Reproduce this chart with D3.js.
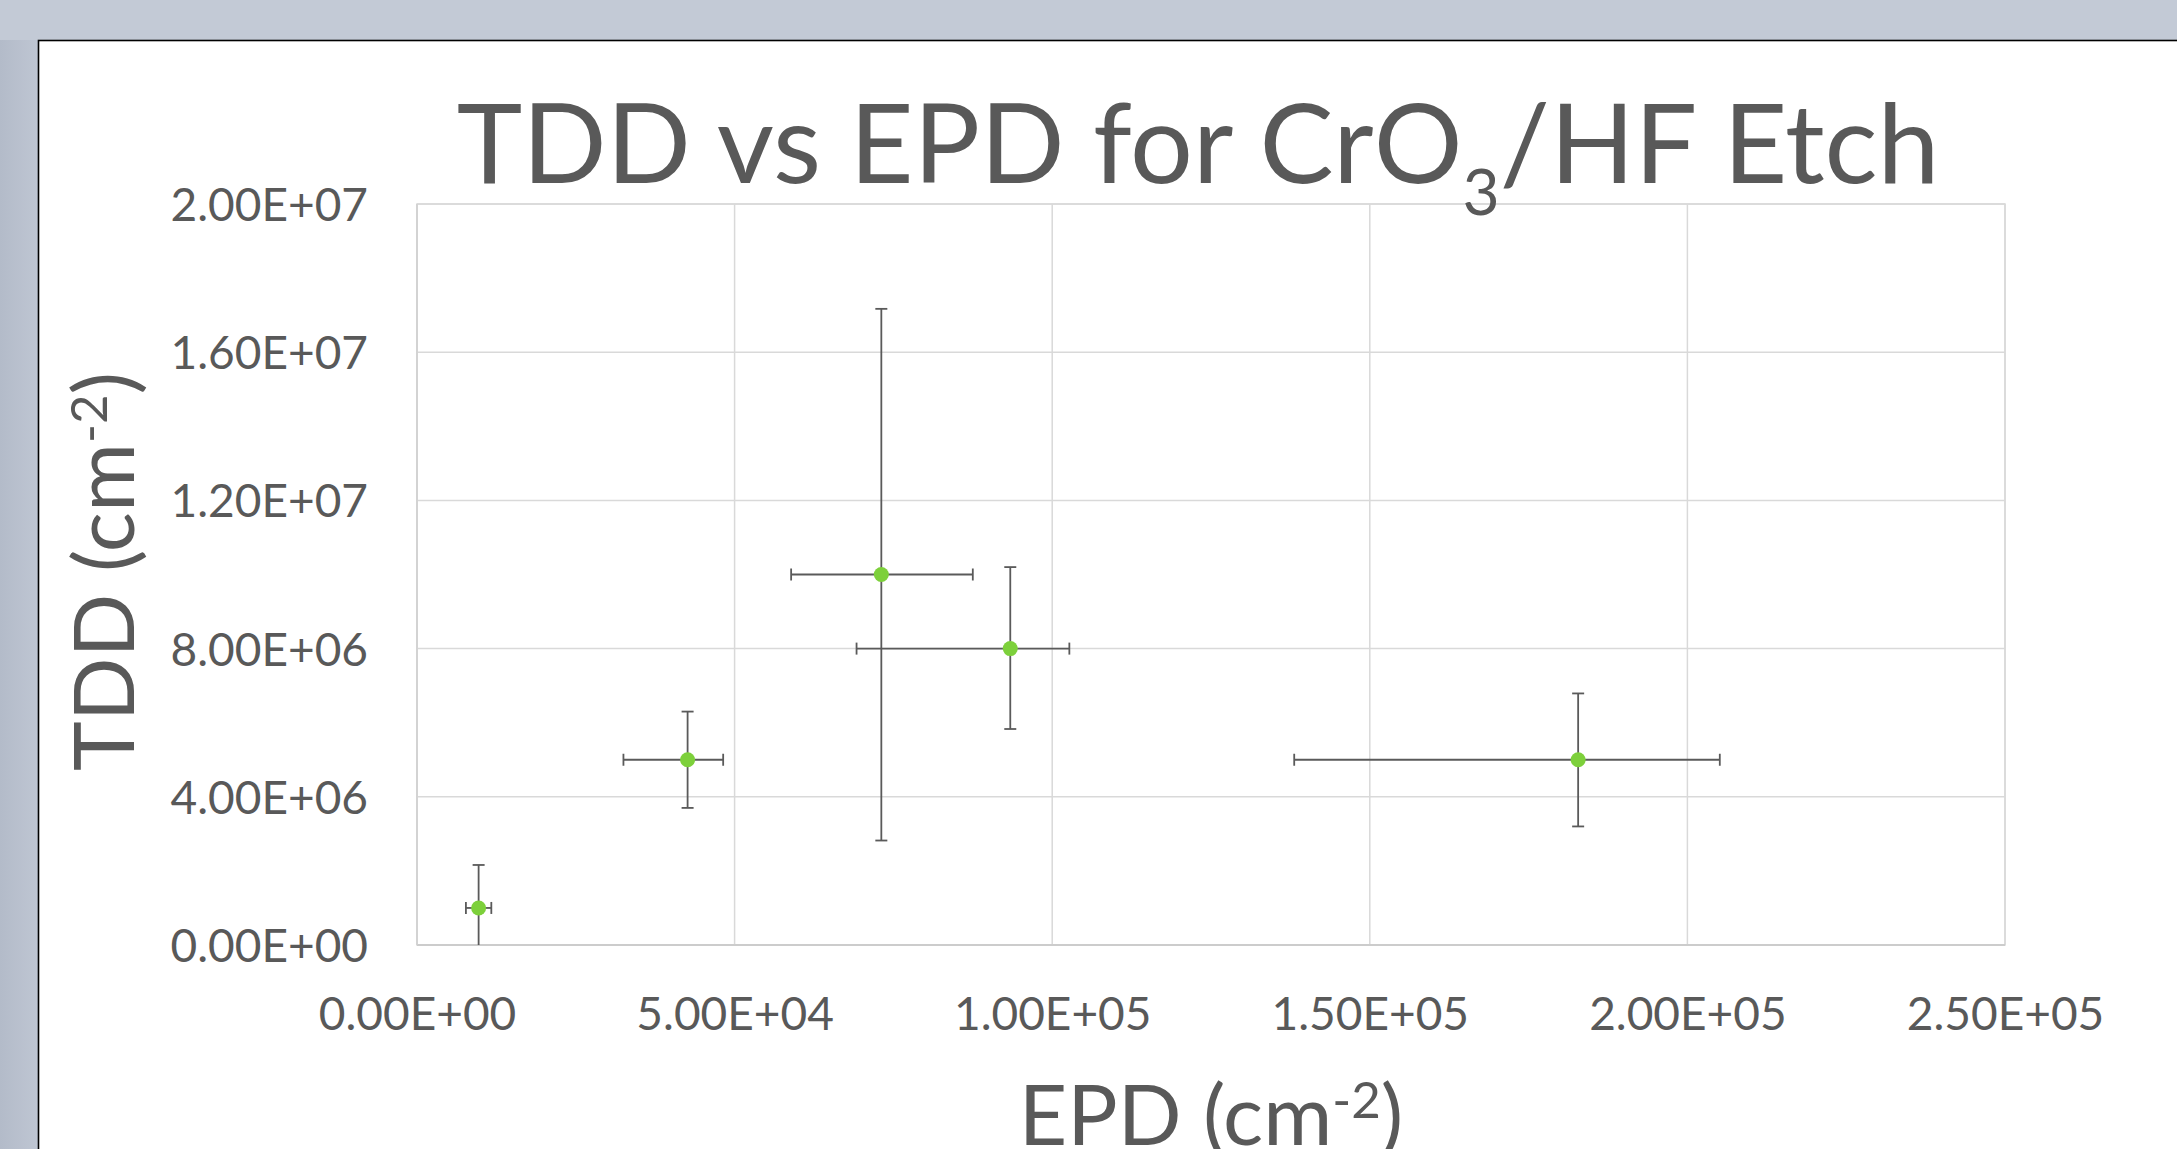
<!DOCTYPE html>
<html>
<head>
<meta charset="utf-8">
<script src="https://cdn.jsdelivr.net/npm/d3@7"></script>
<style>
  html, body { margin: 0; padding: 0; background: #c3cad6; overflow: hidden; }
  svg { display: block; }
  text { font-family: Lato, "Open Sans", sans-serif; fill: #595959; }
</style>
</head>
<body>
<svg id="chart" width="2177" height="1149"></svg>
<script>
// ---- data ----
const epd        = [9.7e3, 4.26e4, 7.31e4, 9.34e4, 1.828e5];   // x values (cm^-2)
const tdd        = [1.0e6, 5.0e6, 1.0e7, 8.0e6, 5.0e6];       // y values (cm^-2)
const epdErrMinus = [2.0e3, 1.01e4, 1.42e4, 2.42e4, 4.47e4];
const epdErrPlus  = [2.0e3, 5.6e3, 1.44e4, 9.3e3, 2.23e4];
const tddErrMinus = [1.16e6, 1.3e6, 7.18e6, 2.17e6, 1.8e6];
const tddErrPlus  = [1.16e6, 1.3e6, 7.17e6, 2.2e6, 1.79e6];

const xTickValues = [0, 5e4, 1e5, 1.5e5, 2e5, 2.5e5];
const xTickLabels = ["0.00E+00", "5.00E+04", "1.00E+05", "1.50E+05", "2.00E+05", "2.50E+05"];
const yTickValues = [0, 4e6, 8e6, 1.2e7, 1.6e7, 2e7];
const yTickLabels = ["0.00E+00", "4.00E+06", "8.00E+06", "1.20E+07", "1.60E+07", "2.00E+07"];

const titleMain = "TDD vs EPD for CrO";
const titleSub = "3";
const titleRest = "/HF Etch";
const xTitle = "EPD (cm";
const yTitle = "TDD (cm";
const unitSup = "-2";

// ---- layout ----
const svg = d3.select("#chart");
const W = 2177, H = 1149;
const plot = { left: 417, right: 2005, top: 204, bottom: 945 };

// background: left strip + white card
const defs = svg.append("defs");
const grad = defs.append("linearGradient").attr("id", "bgGrad").attr("x1", 0).attr("x2", 1).attr("y1", 0).attr("y2", 0);
grad.append("stop").attr("offset", "0%").attr("stop-color", "#b3bbc9");
grad.append("stop").attr("offset", "100%").attr("stop-color", "#bfc6d3");
svg.append("rect").attr("x", 0).attr("y", 0).attr("width", W).attr("height", H).attr("fill", "#c3cad6");
svg.append("rect").attr("x", 0).attr("y", 40).attr("width", 39).attr("height", H - 40).attr("fill", "url(#bgGrad)");
svg.append("rect").attr("x", 38.5).attr("y", 40.5).attr("width", W + 10).attr("height", H + 10)
   .attr("fill", "#ffffff").attr("stroke", "#000000").attr("stroke-width", 1.6);

const x = d3.scaleLinear().domain([0, 2.5e5]).range([plot.left, plot.right]);
const y = d3.scaleLinear().domain([0, 2e7]).range([plot.bottom, plot.top]);

const gridColor = "#d9d9d9";

// gridlines
svg.append("g").selectAll("line").data(yTickValues).join("line")
  .attr("x1", plot.left).attr("x2", plot.right)
  .attr("y1", d => y(d)).attr("y2", d => y(d))
  .attr("stroke", gridColor).attr("stroke-width", 1.5);
svg.append("g").selectAll("line").data(xTickValues).join("line")
  .attr("x1", d => x(d)).attr("x2", d => x(d))
  .attr("y1", plot.top).attr("y2", plot.bottom)
  .attr("stroke", gridColor).attr("stroke-width", 1.5);
// plot border
svg.append("rect").attr("x", plot.left).attr("y", plot.top)
  .attr("width", plot.right - plot.left).attr("height", plot.bottom - plot.top)
  .attr("fill", "none").attr("stroke", gridColor).attr("stroke-width", 1.5);
// axis lines
svg.append("line").attr("x1", plot.left).attr("x2", plot.right).attr("y1", plot.bottom).attr("y2", plot.bottom)
  .attr("stroke", "#cccccc").attr("stroke-width", 1.8);
svg.append("line").attr("x1", plot.left).attr("x2", plot.left).attr("y1", plot.top).attr("y2", plot.bottom)
  .attr("stroke", "#d0d0d0").attr("stroke-width", 1.5);

// axes (labels only)
const tickFs = 46;
const yAxis = d3.axisLeft(y).tickValues(yTickValues).tickFormat((d, i) => yTickLabels[i]).tickSize(0).tickPadding(0);
const gy = svg.append("g").attr("transform", `translate(${plot.left - 49},0)`).call(yAxis);
gy.select(".domain").remove();
gy.selectAll("text").attr("font-size", tickFs).attr("dy", (0.7165 * tickFs / 2) + "px")
  .style("font-family", "Lato").attr("fill", "#595959");

const xAxis = d3.axisBottom(x).tickValues(xTickValues).tickFormat((d, i) => xTickLabels[i]).tickSize(0).tickPadding(0);
const gx = svg.append("g").attr("transform", `translate(0,1030)`).call(xAxis);
gx.select(".domain").remove();
gx.selectAll("text").attr("font-size", tickFs).attr("dy", "0px").attr("y", 0)
  .style("font-family", "Lato").attr("fill", "#595959");

// error bars
const points = epd.map((v, i) => ({
  x: v, y: tdd[i],
  xm: epdErrMinus[i], xp: epdErrPlus[i],
  ym: tddErrMinus[i], yp: tddErrPlus[i]
}));
const eb = svg.append("g").attr("stroke", "#5a5a5a").attr("stroke-width", 1.8).attr("fill", "none");
const cap = 6;
points.forEach(p => {
  const cx = x(p.x), cy = y(p.y);
  // horizontal
  const xl = Math.max(0, p.x - p.xm), xr = Math.min(2.5e5, p.x + p.xp);
  eb.append("line").attr("x1", x(xl)).attr("x2", x(xr)).attr("y1", cy).attr("y2", cy);
  if (p.x - p.xm >= 0) eb.append("line").attr("x1", x(xl)).attr("x2", x(xl)).attr("y1", cy - cap).attr("y2", cy + cap);
  if (p.x + p.xp <= 2.5e5) eb.append("line").attr("x1", x(xr)).attr("x2", x(xr)).attr("y1", cy - cap).attr("y2", cy + cap);
  // vertical
  const yb = Math.max(0, p.y - p.ym), yt = Math.min(2e7, p.y + p.yp);
  eb.append("line").attr("x1", cx).attr("x2", cx).attr("y1", y(yb)).attr("y2", y(yt));
  if (p.y - p.ym >= 0) eb.append("line").attr("x1", cx - cap).attr("x2", cx + cap).attr("y1", y(yb)).attr("y2", y(yb));
  if (p.y + p.yp <= 2e7) eb.append("line").attr("x1", cx - cap).attr("x2", cx + cap).attr("y1", y(yt)).attr("y2", y(yt));
});

// markers
svg.append("g").selectAll("circle").data(points).join("circle")
  .attr("cx", d => x(d.x)).attr("cy", d => y(d.y)).attr("r", 7.5)
  .attr("fill", "#7dd03b");

// title
const titleFs = 111;
const t = svg.append("text").attr("x", 1198).attr("y", 183).attr("text-anchor", "middle").attr("font-size", titleFs);
t.append("tspan").text(titleMain);
t.append("tspan").text(titleSub).attr("font-size", 64).attr("dy", 32);
t.append("tspan").text(titleRest).attr("dy", -32);

// x axis title
const axFs = 84;
const xt = svg.append("text").attr("x", (plot.left + plot.right) / 2).attr("y", 1145)
  .attr("text-anchor", "middle").attr("font-size", axFs);
xt.append("tspan").text(xTitle);
xt.append("tspan").text(unitSup).attr("font-size", 51).attr("dy", -27);
xt.append("tspan").text(")").attr("dy", 27);

// y axis title
const yt = svg.append("text").attr("transform", `translate(134,${(plot.top + plot.bottom) / 2 - 3}) rotate(-90)`)
  .attr("text-anchor", "middle").attr("font-size", axFs);
yt.append("tspan").text(yTitle);
yt.append("tspan").text(unitSup).attr("font-size", 51).attr("dy", -27);
yt.append("tspan").text(")").attr("dy", 27);
</script>
</body>
</html>
